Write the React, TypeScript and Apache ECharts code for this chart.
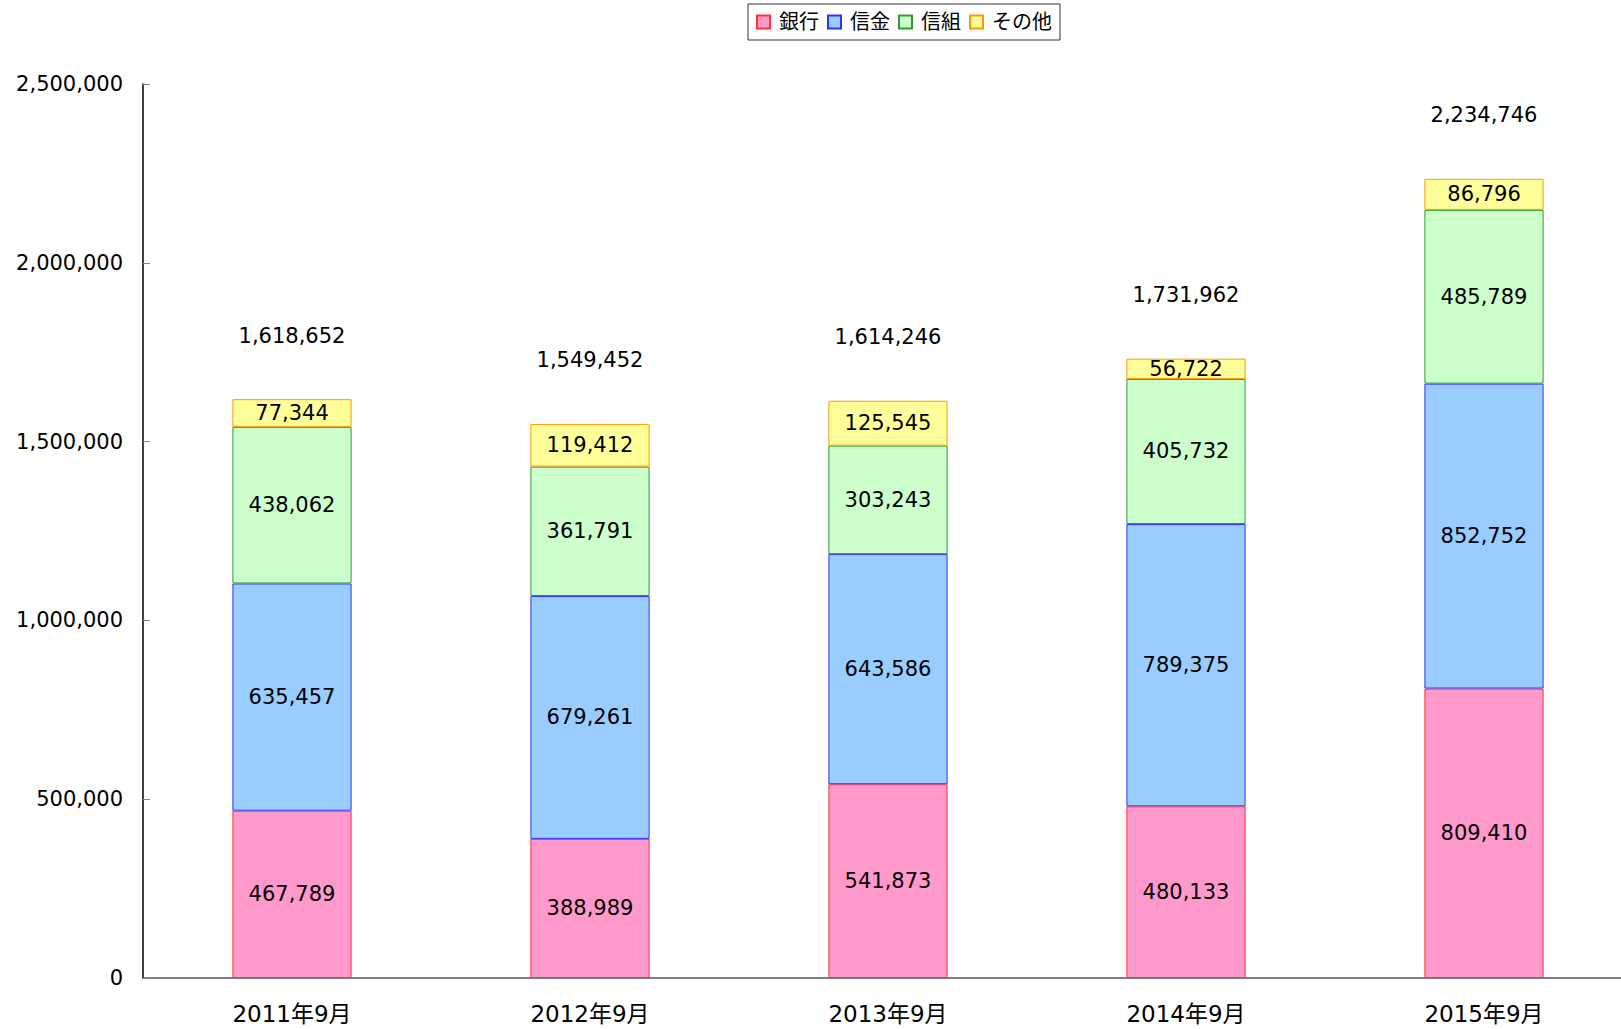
import React, { useEffect, useRef } from "react";
import * as echarts from "echarts";

const categories = ["2011年9月", "2012年9月", "2013年9月", "2014年9月", "2015年9月"];
const bank = [467789, 388989, 541873, 480133, 809410];
const shinkin = [635457, 679261, 643586, 789375, 852752];
const shinkumi = [438062, 361791, 303243, 405732, 485789];
const others = [77344, 119412, 125545, 56722, 86796];
const totals = [1618652, 1549452, 1614246, 1731962, 2234746];

const FONT = "DejaVu Sans, Noto Sans CJK JP, sans-serif";
const fmt = (v: number) => v.toLocaleString("en-US");

export default function App() {
  const ref = useRef<HTMLDivElement>(null);
  useEffect(() => {
    if (!ref.current) return;
    const chart = echarts.init(ref.current, undefined, { renderer: "svg" });
    const mk = (name: string, data: number[], fill: string, border: string) => ({
      name,
      type: "bar",
      stack: "total",
      data,
      barWidth: "40%",
      barGap: "-100%",
      itemStyle: { color: fill, borderColor: border, borderWidth: 1 },
      label: {
        show: true,
        position: "inside",
        color: "#000",
        fontFamily: FONT,
        fontSize: 21,
        formatter: (p: any) => fmt(p.value),
      },
    });
    chart.setOption({
      animation: false,
      backgroundColor: "#fff",
      grid: { left: 143, top: 84, height: 894, width: 1490 },
      legend: {
        left: 748,
        top: 4,
        borderColor: "#333",
        borderWidth: 1,
        padding: [8, 8],
        itemGap: 8,
        itemWidth: 13,
        itemHeight: 13,
        icon: "rect",
        textStyle: { fontFamily: FONT, fontSize: 20, color: "#000", padding: [0, 3, 0, 4] },
        data: ["銀行", "信金", "信組", "その他"],
      },
      xAxis: {
        type: "category",
        data: categories,
        axisLine: { lineStyle: { color: "#555", width: 1.5 } },
        axisTick: { inside: true, length: 6, lineStyle: { color: "#555", width: 1.5 } },
        axisLabel: { color: "#000", fontFamily: FONT, fontSize: 23, margin: 24 },
      },
      yAxis: {
        type: "value",
        min: 0,
        max: 2500000,
        interval: 500000,
        axisLine: { show: true, lineStyle: { color: "#000", width: 1.5 } },
        axisTick: { show: true, inside: true, length: 7, lineStyle: { color: "#888" } },
        splitLine: { show: false },
        axisLabel: {
          color: "#000",
          fontFamily: FONT,
          fontSize: 21,
          margin: 20,
          formatter: (v: number) => fmt(v),
        },
      },
      series: [
        mk("銀行", bank, "#FF99CC", "#FF3333"),
        mk("信金", shinkin, "#99CCFF", "#3333FF"),
        mk("信組", shinkumi, "#CCFFCC", "#339933"),
        mk("その他", others, "#FFFF99", "#FF9900"),
        {
          name: "合計",
          type: "bar",
          data: totals,
          barWidth: "40%",
          barGap: "-100%",
          silent: true,
          z: 1,
          itemStyle: { color: "rgba(0,0,0,0)" },
          label: {
            show: true,
            position: "top",
            offset: [0, -48],
            color: "#000",
            fontFamily: FONT,
            fontSize: 21,
            formatter: (p: any) => fmt(p.value),
          },
        },
      ],
    });
    return () => chart.dispose();
  }, []);
  return (
    <div
      style={{
        position: "absolute",
        left: 0,
        top: 0,
        width: 1621,
        height: 1029,
        overflow: "hidden",
      }}
    >
      <div ref={ref} style={{ width: 1660, height: 1029 }} />
    </div>
  );
}
